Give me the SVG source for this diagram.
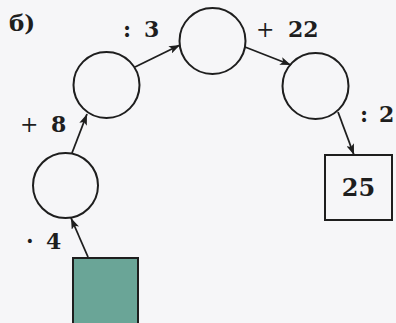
<svg xmlns="http://www.w3.org/2000/svg" width="396" height="323" viewBox="0 0 396 323">
<style>
.node{fill:none;stroke:#1e1e1e;stroke-width:2}
.conn{fill:none;stroke:#1e1e1e;stroke-width:1.8}
.lbl{font-family:"DejaVu Serif","Liberation Serif",serif;font-size:22px;font-weight:bold;fill:#1e1e1e}
.op{font-weight:normal}
</style>
<defs>
<marker id="arr" markerUnits="userSpaceOnUse" markerWidth="12" markerHeight="8" refX="11" refY="4" orient="auto">
<path d="M0,0 L11,4 L0,8 L2.5,4 Z" fill="#1e1e1e"/>
</marker>
</defs>
<rect x="0" y="0" width="396" height="323" fill="#f6f6f8"/>
<text class="lbl" x="9" y="31" style="font-size:23px">б)</text>
<g id="start"><rect x="73" y="258" width="65" height="70" fill="#6aa597" stroke="#1e1e1e" stroke-width="2"/></g>
<g id="c1"><circle class="node" cx="65.5" cy="185.5" r="32.5"/></g>
<g id="c2"><circle class="node" cx="106.5" cy="85" r="33"/></g>
<g id="c3"><circle class="node" cx="212.5" cy="41" r="33"/></g>
<g id="c4"><circle class="node" cx="315.5" cy="86" r="33"/></g>
<g id="end"><rect class="node" x="325" y="155" width="67" height="65"/><text class="lbl" x="358.5" y="196" text-anchor="middle" style="font-size:24px">25</text></g>
<g id="connectors">
<line class="conn" x1="88" y1="257" x2="71" y2="218" marker-end="url(#arr)"/>
<line class="conn" x1="72" y1="153" x2="87" y2="114" marker-end="url(#arr)"/>
<line class="conn" x1="135" y1="67" x2="180" y2="45" marker-end="url(#arr)"/>
<line class="conn" x1="245" y1="47" x2="291" y2="65" marker-end="url(#arr)"/>
<line class="conn" x1="338" y1="112" x2="354" y2="155" marker-end="url(#arr)"/>
</g>
<g id="labels">
<text class="lbl" x="26" y="249">·<tspan x="46">4</tspan></text>
<text class="lbl" x="20" y="132"><tspan class="op">+</tspan><tspan x="51">8</tspan></text>
<text class="lbl" x="123" y="37">:<tspan x="144">3</tspan></text>
<text class="lbl" x="256" y="37"><tspan class="op">+</tspan><tspan x="288">22</tspan></text>
<text class="lbl" x="360" y="122">:<tspan x="379">2</tspan></text>
</g>
</svg>
